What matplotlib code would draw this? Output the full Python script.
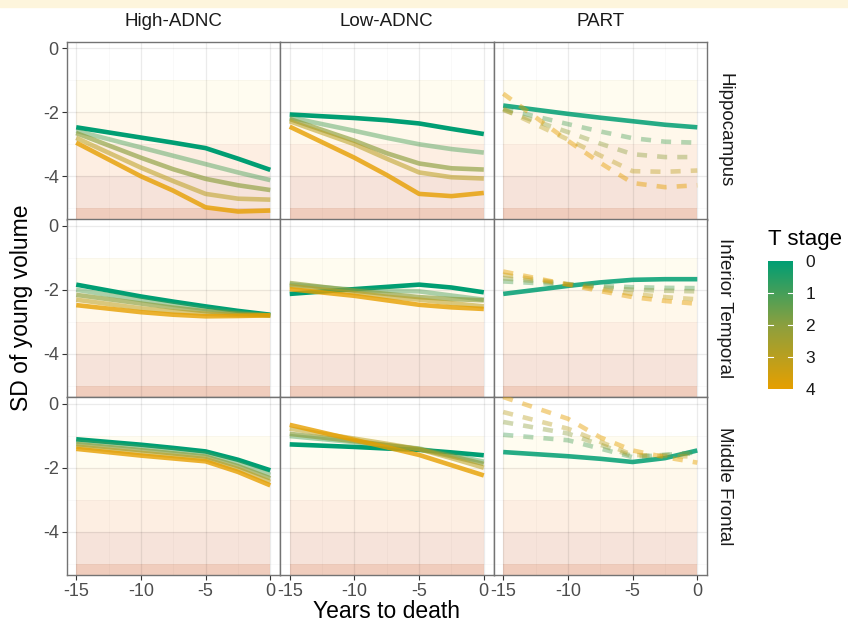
import numpy as np
import matplotlib.pyplot as plt
from matplotlib.colors import LinearSegmentedColormap, Normalize
from matplotlib.cm import ScalarMappable
from matplotlib.patches import Rectangle

plt.rcParams['font.family'] = ['Liberation Sans', 'DejaVu Sans']
plt.rcParams['axes.unicode_minus'] = False

years = [-15, -10, -7.5, -5, -2.5, 0]
groups = ['High-ADNC', 'Low-ADNC', 'PART']
regions = ['Hippocampus', 'Inferior Temporal', 'Middle Frontal']
t_stages = [0, 1, 2, 3, 4]

# SD of young volume, one row per T stage (0..4)
hippo_high = [[-2.47, -2.79, -2.95, -3.12, -3.45, -3.80],
              [-2.58, -3.10, -3.36, -3.62, -3.88, -4.12],
              [-2.65, -3.42, -3.78, -4.08, -4.28, -4.43],
              [-2.80, -3.73, -4.15, -4.55, -4.70, -4.73],
              [-2.95, -4.00, -4.45, -4.97, -5.10, -5.07]]
hippo_low = [[-2.07, -2.18, -2.25, -2.35, -2.52, -2.68],
             [-2.16, -2.58, -2.80, -3.00, -3.15, -3.26],
             [-2.21, -2.89, -3.28, -3.60, -3.75, -3.79],
             [-2.28, -3.00, -3.45, -3.88, -4.03, -4.07],
             [-2.45, -3.42, -3.96, -4.55, -4.62, -4.52]]
hippo_part = [[-1.79, -2.05, -2.17, -2.28, -2.39, -2.47],
              [-1.89, -2.37, -2.60, -2.81, -2.92, -2.95],
              [-1.93, -2.62, -2.98, -3.31, -3.40, -3.40],
              [-1.90, -2.85, -3.35, -3.84, -3.86, -3.82],
              [-1.42, -2.89, -3.58, -4.21, -4.34, -4.28]]

it_high = [[-1.84, -2.21, -2.37, -2.52, -2.66, -2.78],
           [-2.00, -2.32, -2.47, -2.60, -2.71, -2.80],
           [-2.16, -2.43, -2.56, -2.67, -2.75, -2.80],
           [-2.31, -2.58, -2.68, -2.75, -2.79, -2.80],
           [-2.48, -2.70, -2.78, -2.83, -2.82, -2.80]]
it_low = [[-2.13, -1.98, -1.91, -1.84, -1.93, -2.08],
          [-1.84, -2.00, -2.03, -2.05, -2.18, -2.31],
          [-1.79, -2.03, -2.13, -2.23, -2.29, -2.33],
          [-1.89, -2.10, -2.22, -2.31, -2.42, -2.52],
          [-1.98, -2.19, -2.33, -2.47, -2.55, -2.60]]
it_part = [[-2.13, -1.88, -1.77, -1.69, -1.67, -1.67],
           [-1.74, -1.84, -1.88, -1.92, -1.94, -1.95],
           [-1.64, -1.82, -1.92, -2.00, -2.03, -2.05],
           [-1.53, -1.83, -1.98, -2.13, -2.23, -2.30],
           [-1.43, -1.84, -2.04, -2.23, -2.35, -2.44]]

mf_high = [[-1.11, -1.28, -1.38, -1.49, -1.75, -2.08],
           [-1.18, -1.36, -1.46, -1.56, -1.85, -2.22],
           [-1.26, -1.45, -1.55, -1.65, -1.95, -2.33],
           [-1.34, -1.54, -1.63, -1.73, -2.04, -2.44],
           [-1.41, -1.62, -1.71, -1.80, -2.13, -2.55]]
mf_low = [[-1.27, -1.35, -1.40, -1.44, -1.52, -1.61],
          [-1.01, -1.20, -1.30, -1.40, -1.60, -1.81],
          [-0.94, -1.17, -1.29, -1.42, -1.64, -1.88],
          [-0.78, -1.09, -1.25, -1.42, -1.70, -2.00],
          [-0.66, -1.13, -1.36, -1.60, -1.92, -2.24]]
mf_part = [[-1.51, -1.64, -1.72, -1.82, -1.70, -1.46],
           [-0.97, -1.14, -1.40, -1.67, -1.60, -1.52],
           [-0.57, -0.93, -1.28, -1.64, -1.60, -1.55],
           [-0.26, -0.78, -1.19, -1.60, -1.63, -1.65],
           [0.21, -0.47, -1.05, -1.46, -1.67, -1.84]]

panel_data = {
    ('Hippocampus', 'High-ADNC'): hippo_high,
    ('Hippocampus', 'Low-ADNC'): hippo_low,
    ('Hippocampus', 'PART'): hippo_part,
    ('Inferior Temporal', 'High-ADNC'): it_high,
    ('Inferior Temporal', 'Low-ADNC'): it_low,
    ('Inferior Temporal', 'PART'): it_part,
    ('Middle Frontal', 'High-ADNC'): mf_high,
    ('Middle Frontal', 'Low-ADNC'): mf_low,
    ('Middle Frontal', 'PART'): mf_part,
}

# severity bands behind the lines
band_tops = [-1, -2, -3, -4, -5]
band_bottoms = [-2, -3, -4, -5, -7]
band_colors = ['#fffcf0', '#fff8eb', '#fdeee2', '#f6e3da', '#f0cdbd']

cmap = LinearSegmentedColormap.from_list('tstage', ['#009E73', '#8C9F3E', '#E69F00'])
norm = Normalize(0, 4)
solid_alpha = [1.0, 0.45, 0.65, 0.55, 0.8]
part_alpha = [0.85, 0.4, 0.4, 0.4, 0.45]

W, H = 848, 628
fig = plt.figure(figsize=(W / 100, H / 100), dpi=100)
fig.patches.append(Rectangle((0, 1 - 7 / H), 1, 7 / H, transform=fig.transFigure,
                             color='#fdf5dc', zorder=0))

col_left = [66.5, 280, 493.5]
row_top = [41.5, 219, 397]
pw, ph = 213.5, 178

for r, region in enumerate(regions):
    for c, group in enumerate(groups):
        ax = fig.add_axes([col_left[c] / W, 1 - (row_top[r] + ph) / H, pw / W, ph / H])
        ax.set_xlim(-15.75, 0.75)
        ax.set_ylim(-5.35, 0.21)
        ax.set_axisbelow('line')

        for top, bot, col in zip(band_tops, band_bottoms, band_colors):
            ax.fill_between([-15, 0], bot, top, color=col, lw=0, zorder=1)

        vals = panel_data[(region, group)]
        for s in t_stages:
            if group == 'PART':
                ls = '-' if s == 0 else (0, (2.2, 2.2))
                a = part_alpha[s]
            else:
                ls = '-'
                a = solid_alpha[s]
            ax.plot(years, vals[s], color=cmap(norm(s)), alpha=a, lw=3.3,
                    ls=ls, solid_capstyle='butt', solid_joinstyle='round', zorder=3 + s)

        ax.set_xticks([-15, -10, -5, 0])
        ax.set_xticks([-12.5, -7.5, -2.5], minor=True)
        ax.set_yticks([0, -2, -4])
        ax.set_yticks([-1, -3, -5], minor=True)
        ax.grid(which='major', color='black', alpha=0.08, lw=0.9)
        ax.grid(which='minor', color='black', alpha=0.035, lw=0.5)
        ax.tick_params(which='minor', length=0)
        ax.tick_params(which='major', labelsize=13, labelcolor='#4d4d4d',
                       color='#333333', length=3.5, width=0.8, pad=2)
        if c != 0:
            ax.tick_params(left=False, labelleft=False)
        if r != 2:
            ax.tick_params(bottom=False, labelbottom=False)
        for sp in ax.spines.values():
            sp.set_color('#737373')
            sp.set_linewidth(1.0)

        if r == 0:
            fig.text((col_left[c] + pw / 2) / W, 1 - 26.5 / H, group, ha='center',
                     va='baseline', fontsize=13.5, color='#1a1a1a')
    fig.text(725 / W, 1 - (row_top[r] + ph / 2) / H, region, rotation=-90,
             ha='center', va='center', fontsize=13.5, color='#1a1a1a')

fig.text(386.8 / W, 1 - 612 / H, 'Years to death', ha='center', va='center',
         fontsize=16.5, color='black')
fig.text(22 / W, 1 - 308 / H, 'SD of young volume', ha='center', va='center',
         rotation=90, fontsize=16.5, color='black')

# colour bar for T stage
cax = fig.add_axes([768 / W, 1 - 389 / H, 25 / W, 128 / H])
sm = ScalarMappable(norm=norm, cmap=cmap)
cb = fig.colorbar(sm, cax=cax, ticks=t_stages)
cax.invert_yaxis()
cb.outline.set_visible(False)
cax.minorticks_off()
cax.tick_params(length=0, labelsize=12.5, labelcolor='#1a1a1a', pad=9)
for s in t_stages[1:-1]:
    cax.plot([0, 0.2], [s, s], color='white', lw=0.8, transform=cax.get_yaxis_transform())
    cax.plot([0.8, 1], [s, s], color='white', lw=0.8, transform=cax.get_yaxis_transform())
fig.text(768 / W, 1 - 245 / H, 'T stage', ha='left', va='baseline', fontsize=16)

fig.savefig('out.png', dpi=100)
